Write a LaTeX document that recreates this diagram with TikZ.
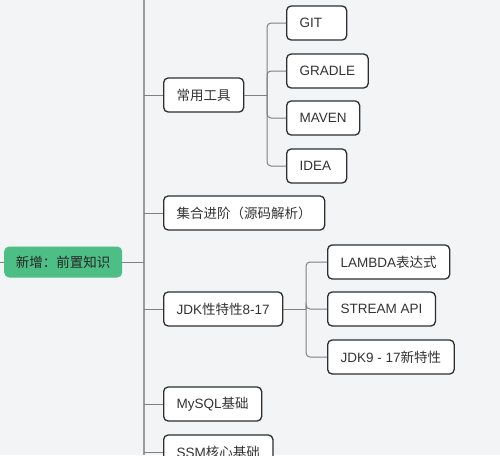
\documentclass[tikz,border=0pt]{standalone}
\usepackage{fontspec}
\setmainfont{Liberation Sans}
\newfontfamily\cjkfont{Noto Sans CJK SC}
\newcommand{\zh}[1]{{\cjkfont #1}}
\definecolor{bg}{HTML}{F3F4F6}
\definecolor{boxline}{HTML}{2E2E2E}
\definecolor{linegray}{HTML}{808080}
\definecolor{trunkgray}{HTML}{9A9A9A}
\definecolor{txt}{HTML}{333333}
\definecolor{rootgreen}{HTML}{4DBE86}
\begin{document}
\begin{tikzpicture}[x=1pt,y=-1pt,
  box/.style={draw=boxline, line width=1.3pt, fill=white, rounded corners=4.5pt,
    minimum height=34pt, inner xsep=13pt, inner ysep=0pt, anchor=west,
    font=\fontsize{13.5}{16}\selectfont, text=txt},
  narrow/.style={text width=34pt, align=left},
  rootbox/.style={fill=rootgreen, rounded corners=5pt, minimum height=31pt,
    minimum width=118pt, inner xsep=0pt, anchor=west,
    font=\fontsize{13.5}{16}\selectfont, text=black!85},
  conn/.style={draw=linegray, line width=1pt, rounded corners=4pt},
  trunk/.style={draw=trunkgray, line width=1.5pt}]
\useasboundingbox (0,0) rectangle (500,455);
\fill[bg] (0,0) rectangle (500,455);

% trunk
\coordinate (ttop) at (144,0);
\coordinate (tbot) at (144,455);
\coordinate (lin) at (0,262);
\draw[trunk] (ttop) -- (tbot);

% root
\node[rootbox] (root) at (4,262) {\zh{新增：前置知识}};
\draw[conn] (lin) -- (root.west);
\draw[conn] (root.east) -- (root.east -| ttop);

% level 1
\node[box] (tools) at (163,95) {\zh{常用工具}};
\node[box] (coll) at (163,213) {\zh{集合进阶（源码解析）}};
\node[box] (jdk) at (163,309) {JDK\zh{性特性}8-17};
\node[box] (mysql) at (163,404) {MySQL\zh{基础}};
\node[box] (ssm) at (163,452) {SSM\zh{核心基础}};
\foreach \n in {tools,coll,jdk,mysql,ssm}
  \draw[conn] (\n.west -| ttop) -- (\n.west);

% tools children
\node[box,narrow] (git) at (286,23) {GIT};
\node[box] (gradle) at (286,71) {GRADLE};
\node[box] (maven) at (286,118) {MAVEN};
\node[box,narrow] (idea) at (286,166) {IDEA};
\coordinate (tb) at (267,95);
\draw[conn] (tools.east) -- (tb);
\foreach \n in {git,gradle,maven,idea}
  \draw[conn] (tb) |- (\n.west);

% jdk children
\node[box] (lambda) at (327,262) {LAMBDA\zh{表达式}};
\node[box] (stream) at (327,309) {STREAM API};
\node[box] (jdknew) at (327,357) {JDK9 - 17\zh{新特性}};
\coordinate (jb) at (306,309);
\draw[conn] (jdk.east) -- (jb);
\foreach \n in {lambda,stream,jdknew}
  \draw[conn] (jb) |- (\n.west);
\end{tikzpicture}
\end{document}
